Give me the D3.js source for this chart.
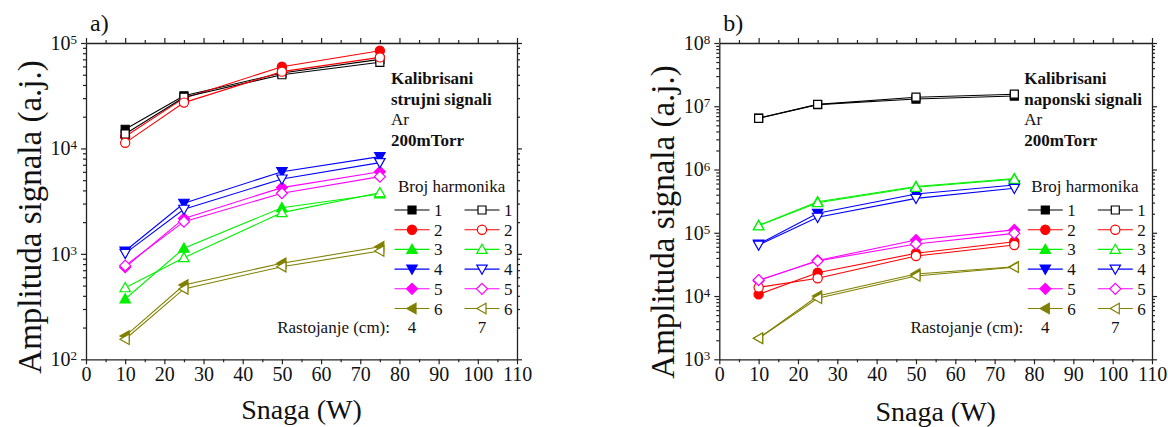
<!DOCTYPE html>
<html>
<head>
<meta charset="utf-8">
<script src="https://cdn.jsdelivr.net/npm/d3@7"></script>
<style>
  html, body { margin: 0; padding: 0; background: #fff; }
</style>
</head>
<body>
<svg id="chart" width="1168" height="427"></svg>
<script>
// ---------------- DATA ----------------
const power = [10, 25, 50, 75];                 // Snaga (W)
const harmonicLabels = ["1", "2", "3", "4", "5", "6"];
const seriesColors = ["#000000", "#ff0000", "#00f000", "#0000ff", "#ff00ff", "#808000"];
const markerShapes = ["square", "circle", "triangleUp", "triangleDown", "diamond", "triangleLeft"];
const xTickValues = [0, 10, 20, 30, 40, 50, 60, 70, 80, 90, 100, 110];
const distanceLabels = ["4", "7"];             // Rastojanje (cm)

// a) Kalibrisani strujni signali — distance 4 cm (filled), 7 cm (open)
const current4cm = [
  [15200, 31600, 52000, 70000],
  [13000, 30000, 59600, 84500],
  [373, 1130, 2740, 3700],
  [1065, 3020, 6020, 8360],
  [747, 2170, 4250, 6000],
  [166, 507, 815, 1170]
];
const current7cm = [
  [13700, 30600, 50000, 65600],
  [11300, 27200, 53500, 73000],
  [477, 920, 2460, 3800],
  [1010, 2650, 5130, 7330],
  [773, 2020, 3760, 5400],
  [155, 465, 756, 1065]
];

// b) Kalibrisani naponski signali — distance 4 cm (filled), 7 cm (open)
const voltage4cm = [
  [6500000, 10600000, 13000000, 14500000],
  [10650, 23400, 47400, 72300],
  [131000, 310000, 540000, 720000],
  [66000, 203000, 410000, 569000],
  [17500, 36500, 76900, 111000],
  [2150, 10000, 22300, 29000]
];
const voltage7cm = [
  [6450000, 10700000, 13900000, 15500000],
  [13700, 19100, 43000, 64100],
  [129000, 299000, 524000, 700000],
  [64000, 176000, 350000, 505000],
  [17900, 35800, 66400, 98000],
  [2150, 9200, 20700, 28500]
];

const panels = [
  { tag: "a)", left: 86, right: 517, top: 43, bottom: 359.3, yDomain: [1e2, 1e5],
    info: ["Kalibrisani", "strujni signali", "Ar", "200mTorr"], filled: current4cm, open: current7cm,
    yTitleY: 217, xTitleBase: 419 },
  { tag: "b)", left: 719.3, right: 1152, top: 43, bottom: 359.3, yDomain: [1e3, 1e8],
    info: ["Kalibrisani", "naponski signali", "Ar", "200mTorr"], filled: voltage4cm, open: voltage7cm,
    yTitleY: 222, xTitleBase: 421 }
];

// ---------------- DRAW ----------------
const svg = d3.select("#chart");
const FONT = "'Liberation Serif', 'Times New Roman', serif";

function markerPath(shape) {
  switch (shape) {
    case "square": return "M-4,-4H4V4H-4Z";
    case "triangleUp": return "M0,-5.2L5.2,4L-5.2,4Z";
    case "triangleDown": return "M0,5.2L5.2,-4L-5.2,-4Z";
    case "diamond": return "M0,-5.5L5.5,0L0,5.5L-5.5,0Z";
    case "triangleLeft": return "M-5.2,0L4,-5.2L4,5.2Z";
    default: return null;
  }
}
function drawMarker(g, shape, color, filled) {
  const fill = filled ? color : "#fff";
  if (shape === "circle") {
    g.append("circle").attr("r", 4.6).attr("fill", fill).attr("stroke", color).attr("stroke-width", 1.2);
  } else {
    g.append("path").attr("d", markerPath(shape)).attr("fill", fill).attr("stroke", color)
      .attr("stroke-width", 1.2).attr("stroke-linejoin", "miter");
  }
}

function styleAxis(g) {
  g.selectAll("path.domain").attr("stroke", "#222").attr("stroke-width", 1.3);
  g.selectAll(".tick line").attr("stroke", "#222").attr("stroke-width", 1.2);
  g.selectAll(".tick text").attr("font-size", 20).attr("fill", "#111");
}

panels.forEach(p => {
  const x = d3.scaleLinear().domain([0, 110]).range([p.left, p.right]);
  const y = d3.scaleLog().domain(p.yDomain).range([p.bottom, p.top]);
  const g = svg.append("g");

  const e0 = Math.round(Math.log10(p.yDomain[0])), e1 = Math.round(Math.log10(p.yDomain[1]));
  const majorY = d3.range(e0, e1 + 1).map(e => Math.pow(10, e));
  const minorY = [];
  for (let e = e0; e < e1; e++) for (let k = 2; k <= 9; k++) minorY.push(k * Math.pow(10, e));
  const minorX = d3.range(5, 110, 10);

  // bottom axis
  const gb = g.append("g").attr("transform", `translate(0,${p.bottom})`);
  gb.call(d3.axisBottom(x).tickValues(xTickValues).tickSize(5).tickSizeOuter(0).tickPadding(3).tickFormat(d3.format("d")));
  gb.append("g").call(d3.axisBottom(x).tickValues(minorX).tickSize(3).tickFormat("")).select(".domain").remove();
  styleAxis(gb);
  // top axis
  const gt = g.append("g").attr("transform", `translate(0,${p.top})`);
  gt.call(d3.axisTop(x).tickValues(xTickValues).tickSize(5).tickSizeOuter(0).tickFormat(""));
  gt.append("g").call(d3.axisTop(x).tickValues(minorX).tickSize(3).tickFormat("")).select(".domain").remove();
  styleAxis(gt);
  // left axis
  const gl = g.append("g").attr("transform", `translate(${p.left},0)`);
  gl.call(d3.axisLeft(y).tickValues(majorY).tickSize(5).tickSizeOuter(0).tickPadding(4).tickFormat(() => "10"));
  gl.append("g").call(d3.axisLeft(y).tickValues(minorY).tickSize(3).tickFormat("")).select(".domain").remove();
  styleAxis(gl);
  gl.selectAll(".tick text").filter(d => majorY.includes(d))
    .append("tspan").attr("dy", "-0.45em").attr("font-size", 13).text(d => Math.round(Math.log10(d)));
  // right axis
  const gr = g.append("g").attr("transform", `translate(${p.right},0)`);
  gr.call(d3.axisRight(y).tickValues(majorY).tickSize(5).tickSizeOuter(0).tickFormat(""));
  gr.append("g").call(d3.axisRight(y).tickValues(minorY).tickSize(3).tickFormat("")).select(".domain").remove();
  styleAxis(gr);

  // titles
  g.append("text").attr("x", (p.left + p.right) / 2).attr("y", p.xTitleBase)
    .attr("text-anchor", "middle").attr("font-size", 28).text("Snaga (W)");
  g.append("text").attr("transform", `translate(${p.left - 45},${p.yTitleY}) rotate(-90)`)
    .attr("text-anchor", "middle").attr("font-size", 33).text("Amplituda signala (a.j.)");
  g.append("text").attr("x", p.left + 4).attr("y", 31).attr("font-size", 24).text(p.tag);

  // series lines + markers
  const line = d3.line().x((d, i) => x(power[i])).y(d => y(d));
  [["filled", true], ["open", false]].forEach(([key, isFilled]) => {
    p[key].forEach((vals, si) => {
      g.append("path").datum(vals).attr("d", line).attr("fill", "none")
        .attr("stroke", seriesColors[si]).attr("stroke-width", 1.1);
    });
  });
  [["filled", true], ["open", false]].forEach(([key, isFilled]) => {
    p[key].forEach((vals, si) => {
      vals.forEach((v, i) => {
        const m = g.append("g").attr("transform", `translate(${x(power[i])},${y(v)})`);
        drawMarker(m, markerShapes[si], seriesColors[si], isFilled);
      });
    });
  });

  // info text
  const infoX = p.left + 305;
  const infoBase = [84, 104.5, 125, 146];
  p.info.forEach((t, i) => {
    g.append("text").attr("x", infoX).attr("y", infoBase[i]).attr("font-size", 17)
      .attr("font-weight", i === 2 ? "normal" : "bold").text(t);
  });

  // legend
  const lg = g.append("g");
  lg.append("text").attr("x", p.left + 312).attr("y", 191.7).attr("font-size", 17).text("Broj harmonika");
  const colX = [p.left + 326, p.left + 396];
  harmonicLabels.forEach((lab, si) => {
    const cy = 210 + si * 19.7;
    colX.forEach((cx, ci) => {
      lg.append("line").attr("x1", cx - 17.5).attr("x2", cx + 17.5).attr("y1", cy).attr("y2", cy)
        .attr("stroke", seriesColors[si]).attr("stroke-width", 1.1);
      const m = lg.append("g").attr("transform", `translate(${cx},${cy})`);
      drawMarker(m, markerShapes[si], seriesColors[si], ci === 0);
      lg.append("text").attr("x", cx + 22).attr("y", cy + 6).attr("font-size", 17).text(lab);
    });
  });
  lg.append("text").attr("x", p.left + 304).attr("y", 332.5).attr("text-anchor", "end")
    .attr("font-size", 17).text("Rastojanje (cm):");
  distanceLabels.forEach((t, ci) => {
    lg.append("text").attr("x", colX[ci]).attr("y", 332.5).attr("text-anchor", "middle")
      .attr("font-size", 17).text(t);
  });
});

svg.selectAll("text").style("font-family", FONT).style("fill", "#111");
</script>
</body>
</html>
